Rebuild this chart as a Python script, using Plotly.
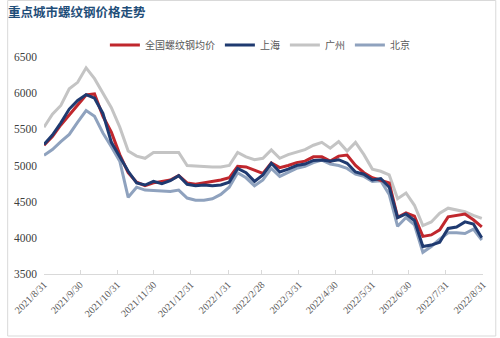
import plotly.graph_objects as go
import pandas as pd

# weekly sample dates
dates = pd.date_range("2021-08-31", periods=53, freq="7D")

national = [5280, 5400, 5560, 5700, 5830, 5975, 5990, 5680, 5460, 5150,
            4900, 4770, 4720, 4760, 4780, 4800, 4860, 4760, 4740, 4760,
            4770, 4800, 4830, 4990, 4980, 4930, 4890, 5035, 4970, 5000,
            5040, 5060, 5120, 5120, 5060, 5130, 5145, 5000, 4900, 4830,
            4790, 4760, 4285, 4345, 4300, 4020, 4040, 4110, 4290, 4310,
            4330, 4250, 4150]
shanghai = [5290, 5420, 5590, 5780, 5900, 5980, 5930, 5720, 5320, 5120,
            4920, 4760, 4730, 4780, 4750, 4790, 4860, 4740, 4720, 4730,
            4720, 4730, 4770, 4960, 4900, 4780, 4870, 5030, 4910, 4950,
            5000, 5020, 5070, 5075, 5060, 5080, 5030, 4910, 4880, 4800,
            4820, 4700, 4280, 4330, 4240, 3880, 3900, 3940, 4130, 4150,
            4220, 4190, 4000]
guangzhou = [5530, 5710, 5830, 6060, 6150, 6350, 6200, 6000, 5800, 5530,
             5200, 5130, 5100, 5180, 5180, 5190, 5180, 5000, 4990, 4980,
             4980, 4980, 5000, 5180, 5120, 5080, 5100, 5215, 5100, 5150,
             5185, 5220, 5280, 5320, 5240, 5330, 5200, 5320, 5150, 4950,
             4920, 4870, 4540, 4620, 4450, 4170, 4220, 4340, 4410, 4380,
             4360, 4310, 4270]
beijing = [5140, 5220, 5330, 5430, 5600, 5760, 5680, 5450, 5260, 5060,
           4560, 4700, 4660, 4650, 4650, 4640, 4660, 4550, 4520, 4520,
           4540, 4600, 4700, 4900, 4830, 4720, 4800, 4960, 4850, 4900,
           4960, 4990, 5040, 5075, 5020, 5000, 4960, 4880, 4850, 4780,
           4790, 4600, 4160, 4280, 4180, 3800, 3880, 3980, 4070, 4070,
           4060, 4120, 3970]

tick_dates = ["2021-08-31", "2021-09-30", "2021-10-31", "2021-11-30", "2021-12-31",
              "2022-01-31", "2022-02-28", "2022-03-31", "2022-04-30", "2022-05-31",
              "2022-06-30", "2022-07-31", "2022-08-31"]
tick_text = ["2021/8/31", "2021/9/30", "2021/10/31", "2021/11/30", "2021/12/31",
             "2022/1/31", "2022/2/28", "2022/3/31", "2022/4/30", "2022/5/31",
             "2022/6/30", "2022/7/31", "2022/8/31"]

series = [
    ("广州", guangzhou, "#C4C4C4", 3),
    ("北京", beijing, "#8FA2BE", 4),
    ("全国螺纹钢均价", national, "#C0272D", 1),
    ("上海", shanghai, "#1F3A70", 2),
]

fig = go.Figure()
for name, vals, color, rank in series:
    fig.add_trace(go.Scatter(x=dates, y=vals, name=name, mode="lines",
                             line=dict(color=color, width=3), legendrank=rank))

W, H = 500, 338
L, R, T, B = 38, 15, 57, 64
pw, ph = W - L - R, H - T - B

fig.update_layout(
    width=W, height=H,
    margin=dict(l=L, r=R, t=T, b=B),
    paper_bgcolor="white", plot_bgcolor="white",
    font=dict(family="Noto Sans CJK SC", color="#595959", size=10),
    title=dict(text="<b>重点城市螺纹钢价格走势</b>", x=8 / W, xanchor="left",
               y=1 - 13 / H, yanchor="middle",
               font=dict(size=12.5, color="#1F4E79", family="Noto Sans CJK SC")),
    showlegend=True,
    legend=dict(orientation="h", x=(100 - L) / pw, xanchor="left",
                y=(H - B - 45) / ph, yanchor="middle",
                font=dict(size=10, color="#595959"), bgcolor="rgba(0,0,0,0)"),
    xaxis=dict(type="date", range=["2021-08-31", "2022-08-31"],
               tickvals=tick_dates, ticktext=tick_text, tickangle=-45,
               showgrid=False, showline=True, linecolor="#D9D9D9", linewidth=1,
               ticks="inside", ticklen=4, tickcolor="#D9D9D9",
               tickfont=dict(family="Liberation Serif", size=10, color="#595959")),
    yaxis=dict(range=[3500, 6500], tickvals=[3500, 4000, 4500, 5000, 5500, 6000, 6500],
               showgrid=False, zeroline=False, showline=False, ticklabelstandoff=6,
               tickfont=dict(family="Liberation Serif", size=11.5, color="#404040")),
    shapes=[dict(type="rect", xref="paper", yref="paper",
                 x0=(1 - L) / pw, x1=(498 - L) / pw,
                 y0=(H - B - 336) / ph, y1=(H - B - 0.5) / ph,
                 line=dict(color="#D9D9D9", width=1), layer="below")],
)

fig.write_html("out.html")
